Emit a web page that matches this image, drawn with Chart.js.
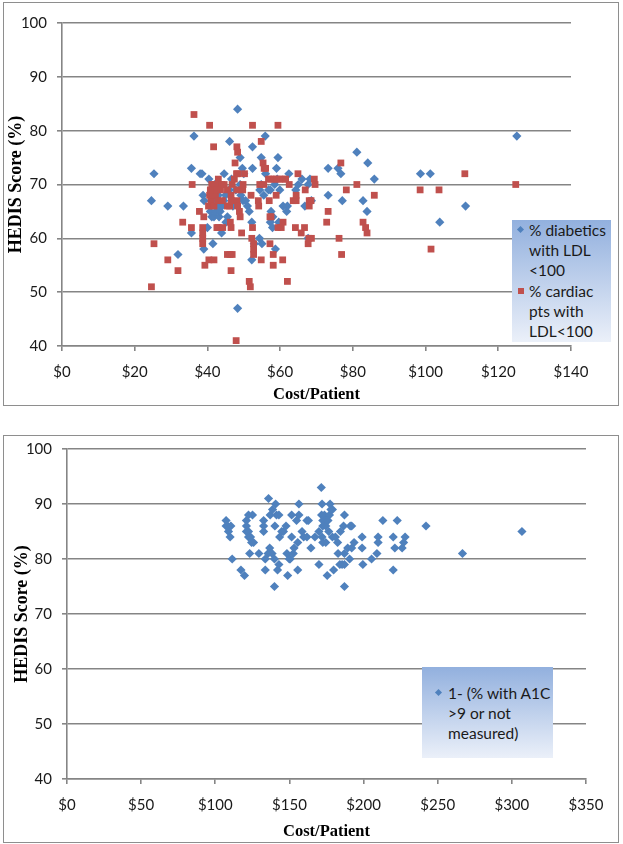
<!DOCTYPE html>
<html>
<head>
<meta charset="utf-8">
<title>HEDIS Score vs Cost/Patient</title>
<script src="https://cdn.jsdelivr.net/npm/chart.js@4.4.0/dist/chart.umd.min.js"></script>
<style>
    body { margin: 0; background: #ffffff; width: 623px; height: 844px; position: relative; overflow: hidden; }
    .panel { position: absolute; border: 1px solid #8e8e8e; }
    #panelTop { left: 3px; top: 2px; width: 614px; height: 402px; }
    #panelBottom { left: 3px; top: 435px; width: 614px; height: 406px; }
    canvas { position: absolute; left: 0; }
    #topChart { top: 0; }
    #bottomChart { top: 410px; }
    .legend {
        position: absolute;
        background: linear-gradient(to bottom, #92b0de, #ebf0f9);
        font: 15.5px Lato, sans-serif;
        color: #1a1a1a;
        line-height: 20px;
    }
    #legendTop { left: 512px; top: 220px; width: 99px; height: 122px; }
    #legendBottom { left: 422px; top: 667px; width: 131px; height: 91px; }
    .legend .item { position: absolute; white-space: nowrap; }
    .legend .mark { position: absolute; }
    .diamond { width: 5px; height: 5px; background: #4F81BD; transform: rotate(45deg); }
    .square { width: 6px; height: 6px; background: #C0504D; }
</style>
</head>
<body>
<div class="panel" id="panelTop"></div>
<div class="panel" id="panelBottom"></div>
<canvas id="topChart" width="623" height="410"></canvas>
<canvas id="bottomChart" width="623" height="434"></canvas>

<div class="legend" id="legendTop">
    <span class="mark diamond" style="left:6px; top:7px;"></span>
    <div class="item" style="left:17px; top:0;">% diabetics<br>with LDL<br>&lt;100</div>
    <span class="mark square" style="left:6px; top:68px;"></span>
    <div class="item" style="left:17px; top:61px;">% cardiac<br>pts with<br>LDL&lt;100</div>
</div>
<div class="legend" id="legendBottom">
    <span class="mark diamond" style="left:14px; top:23px;"></span>
    <div class="item" style="left:26px; top:16px;">1- (% with A1C<br>&gt;9 or not<br>measured)</div>
</div>

<script>
// --- top chart: % diabetics with LDL<100 ---
const diabeticsCost = [
    24.6, 25.3, 29.1, 31.9, 33.4, 35.6, 35.6, 36.3, 38.0, 38.5,
    38.8, 39.0, 39.1, 40.0, 40.4, 40.8, 41.0, 41.2, 41.5, 41.8,
    42.0, 42.3, 42.6, 42.8, 43.0, 43.2, 43.5, 43.9, 44.0, 44.5,
    44.6, 45.0, 45.1, 45.5, 46.0, 46.1, 46.6, 47.0, 47.8, 48.3,
    48.3, 48.9, 49.0, 49.0, 49.2, 49.6, 49.8, 50.0, 50.5, 51.0,
    51.5, 52.2, 52.2, 52.4, 52.4, 52.9, 54.3, 54.4, 54.8, 54.8,
    55.0, 55.5, 55.9, 56.0, 56.8, 57.3, 57.3, 57.5, 57.9, 58.0,
    58.5, 58.7, 59.0, 59.2, 59.4, 59.6, 59.9, 60.8, 62.0, 61.8,
    62.4, 64.3, 65.0, 66.0, 66.8, 67.7, 67.7, 68.2, 68.6, 73.2,
    73.2, 75.9, 76.7, 77.1, 81.1, 82.8, 83.9, 84.1, 85.9, 98.6,
    101.3, 103.9, 111.0, 125.1
];
const diabeticsScore = [
    67, 72, 66, 57, 66, 73, 61, 79, 72, 72,
    68, 58, 67, 62, 71, 65, 67, 64, 59, 64,
    70, 65, 67, 66, 68, 64, 65, 61, 66, 67,
    72, 68, 63, 64, 69, 78, 71, 66, 69, 84,
    47, 69, 75, 70, 68, 73, 67, 72, 67, 66,
    65, 63, 56, 77, 73, 59, 60, 69, 70, 75,
    59, 68, 79, 72, 69, 69, 63, 65, 62, 64,
    70, 58, 73, 71, 75, 63, 69, 66, 66, 65,
    72, 69, 70, 71, 66, 70, 60, 71, 67, 73,
    68, 73, 72, 67, 76, 67, 65, 74, 71, 72,
    72, 63, 66, 79
];

// --- top chart: % cardiac pts with LDL<100 ---
const cardiacCost = [
    24.6, 25.3, 29.1, 31.9, 33.2, 35.6, 35.8, 36.3, 37.8, 38.7,
    38.7, 38.7, 38.7, 39.0, 39.3, 40.3, 40.4, 40.6, 40.6, 40.8,
    41.0, 41.2, 41.4, 41.6, 41.7, 41.8, 41.8, 42.0, 42.2, 42.5,
    42.6, 42.8, 43.0, 43.0, 43.3, 43.6, 43.9, 44.1, 44.2, 44.6,
    45.5, 45.5, 45.5, 46.1, 46.2, 46.3, 46.5, 46.5, 46.5, 46.6,
    46.8, 46.8, 47.4, 47.6, 47.9, 48.0, 48.1, 48.1, 48.1, 48.3,
    48.3, 48.3, 48.8, 49.0, 49.4, 49.7, 49.8, 50.2, 51.5, 51.8,
    52.0, 52.2, 52.4, 52.4, 52.7, 52.7, 52.7, 54.0, 54.1, 54.4,
    54.8, 54.8, 55.3, 55.5, 55.6, 56.0, 56.8, 57.0, 57.2, 57.2,
    57.5, 57.5, 58.1, 58.1, 58.3, 58.9, 59.0, 59.4, 59.4, 59.9,
    60.3, 60.7, 60.8, 60.8, 61.5, 62.0, 62.5, 63.6, 64.2, 64.4,
    64.4, 64.9, 65.8, 66.7, 66.9, 67.7, 67.9, 68.0, 68.0, 68.5,
    68.6, 69.4, 69.6, 72.8, 73.2, 76.2, 76.7, 76.9, 78.2, 81.1,
    82.8, 83.5, 83.9, 85.9, 98.5, 101.5, 103.7, 110.8, 124.8
];
const cardiacScore = [
    51, 59, 56, 54, 63, 62, 70, 83, 65, 62,
    61, 60, 59, 64, 55, 66, 56, 81, 68, 69,
    67, 70, 68, 69, 77, 66, 56, 70, 68, 69,
    62, 67, 71, 62, 70, 69, 70, 67, 62, 70,
    69, 66, 57, 66, 57, 63, 68, 62, 54, 67,
    70, 57, 71, 74, 41, 72, 77, 69, 67, 76,
    72, 66, 65, 64, 61, 69, 70, 72, 52, 51,
    68, 60, 62, 81, 57, 58, 59, 67, 66, 70,
    56, 78, 74, 70, 73, 73, 71, 67, 64, 59,
    64, 71, 57, 55, 71, 68, 71, 81, 62, 71,
    62, 56, 63, 71, 71, 52, 70, 67, 62, 67,
    68, 72, 61, 62, 69, 59, 60, 67, 66, 67,
    60, 71, 70, 63, 65, 60, 74, 57, 69, 70,
    63, 62, 61, 68, 69, 58, 69, 72, 70
];

// --- bottom chart: 1- (% with A1C >9 or not measured) ---
const a1cCost = [
    107.3, 107.3, 108.4, 110.5, 108.9, 110.0, 111.4, 117.3, 119.7, 121.0,
    121.0, 122.4, 125.1, 121.0, 122.4, 122.4, 123.8, 124.5, 125.8, 123.2,
    129.4, 132.6, 132.6, 132.6, 133.7, 133.7, 135.9, 137.0, 138.6, 140.2,
    140.7, 141.3, 142.9, 136.7, 135.6, 138.3, 139.9, 139.9, 142.0, 143.4,
    142.9, 144.8, 146.0, 147.7, 148.3, 148.8, 149.9, 150.5, 151.5, 151.5,
    152.6, 153.1, 154.8, 156.4, 156.4, 155.6, 155.6, 158.5, 159.6, 161.8,
    161.8, 162.8, 164.5, 167.2, 169.9, 169.9, 171.5, 172.0, 171.7, 173.6,
    172.5, 174.5, 172.5, 174.5, 172.0, 172.5, 174.5, 175.5, 177.4, 177.0,
    176.0, 176.5, 178.0, 179.0, 179.0, 181.0, 179.8, 182.5, 182.8, 184.0,
    185.5, 187.1, 184.4, 186.5, 187.1, 187.1, 187.1, 189.3, 190.6, 191.0,
    192.0, 192.0, 193.6, 199.0, 199.0, 199.5, 205.4, 209.0, 209.8, 209.8,
    213.0, 220.0, 220.0, 221.1, 222.7, 226.0, 227.0, 228.0, 242.1, 266.7,
    306.8
];
const a1cScore = [
    87, 86, 86, 86, 85, 84, 80, 78, 77, 87,
    86, 88, 88, 85, 85, 84, 84, 83, 83, 81,
    81, 87, 86, 85, 80, 78, 91, 88, 89, 86,
    90, 88, 88, 82, 81, 81, 80, 75, 78, 84,
    79, 85, 85, 86, 81, 77, 80, 80, 88, 84,
    81, 82, 87, 90, 88, 83, 78, 85, 84, 84,
    87, 87, 82, 84, 85, 79, 93, 90, 88, 88,
    87, 87, 86, 86, 84, 83, 83, 77, 90, 88,
    87, 85, 89, 89, 84, 84, 78, 83, 81, 79,
    79, 79, 85, 86, 88, 81, 75, 82, 80, 86,
    86, 82, 83, 84, 82, 79, 80, 81, 84, 83,
    87, 84, 78, 82, 87, 82, 83, 84, 86, 81,
    85
];

const scoreTicks = { min: 40, max: 100, step: 10 };
const topCostTicks = { min: 0, max: 140, step: 20 };
const bottomCostTicks = { min: 0, max: 350, step: 50 };

const blue = '#4F81BD';
const red = '#C0504D';
const axisGray = '#858585';
const tickFont = { family: 'Lato', size: 15 };

function toPoints(xs, ys) {
    return xs.map((x, i) => ({ x: x, y: ys[i] }));
}

/**
 * Shared scatter options; geometry pinned so the plot area
 * lands where the reference draws it
 */
function buildOptions(o) {
    return {
        responsive: false,
        animation: false,
        layout: { padding: o.padding },
        plugins: {
            legend: { display: false },
            tooltip: { enabled: false }
        },
        scales: {
            x: {
                type: 'linear',
                min: o.cost.min,
                max: o.cost.max,
                afterFit: (scale) => { scale.height = o.xHeight; },
                ticks: {
                    stepSize: o.cost.step,
                    autoSkip: false,
                    maxRotation: 0,
                    padding: 12,
                    color: '#1a1a1a',
                    font: tickFont,
                    callback: (v) => '$' + v
                },
                grid: { drawOnChartArea: false, tickLength: 5, color: axisGray, lineWidth: 1.6 },
                border: { color: axisGray, width: 1.6 },
                title: {
                    display: true,
                    text: 'Cost/Patient',
                    color: '#000000',
                    padding: 0,
                    font: { family: 'Liberation Serif', size: 16.5, weight: 'bold' }
                }
            },
            y: {
                type: 'linear',
                min: scoreTicks.min,
                max: scoreTicks.max,
                afterFit: (scale) => { scale.width = o.yWidth; },
                ticks: {
                    stepSize: scoreTicks.step,
                    padding: 10,
                    color: '#1a1a1a',
                    font: tickFont
                },
                grid: { tickLength: 5, color: axisGray, lineWidth: 1.6 },
                border: { color: axisGray, width: 1.6 },
                title: {
                    display: true,
                    text: 'HEDIS Score (%)',
                    color: '#000000',
                    padding: { top: o.yTitlePad, bottom: 0 },
                    font: { family: 'Liberation Serif', size: 18, weight: 'bold' }
                }
            }
        }
    };
}

new Chart(document.getElementById('topChart'), {
    type: 'scatter',
    data: {
        datasets: [
            {
                label: '% diabetics with LDL <100',
                data: toPoints(diabeticsCost, diabeticsScore),
                pointStyle: 'rectRot',
                pointRadius: 4.6,
                backgroundColor: blue,
                borderColor: blue,
                borderWidth: 0,
                order: 2
            },
            {
                label: '% cardiac pts with LDL<100',
                data: toPoints(cardiacCost, cardiacScore),
                pointStyle: 'rect',
                pointRadius: 4.8,
                backgroundColor: red,
                borderColor: red,
                borderWidth: 0,
                order: 1
            }
        ]
    },
    options: buildOptions({
        cost: topCostTicks,
        padding: { top: 23, left: 0, right: 52, bottom: 5 },
        xHeight: 59,
        yWidth: 62,
        yTitlePad: 6
    })
});

new Chart(document.getElementById('bottomChart'), {
    type: 'scatter',
    data: {
        datasets: [
            {
                label: '1- (% with A1C >9 or not measured)',
                data: toPoints(a1cCost, a1cScore),
                pointStyle: 'rectRot',
                pointRadius: 4.6,
                backgroundColor: blue,
                borderColor: blue,
                borderWidth: 0
            }
        ]
    },
    options: buildOptions({
        cost: bottomCostTicks,
        padding: { top: 39, left: 0, right: 37, bottom: 2 },
        xHeight: 63,
        yWidth: 67,
        yTitlePad: 12
    })
});
</script>
</body>
</html>
